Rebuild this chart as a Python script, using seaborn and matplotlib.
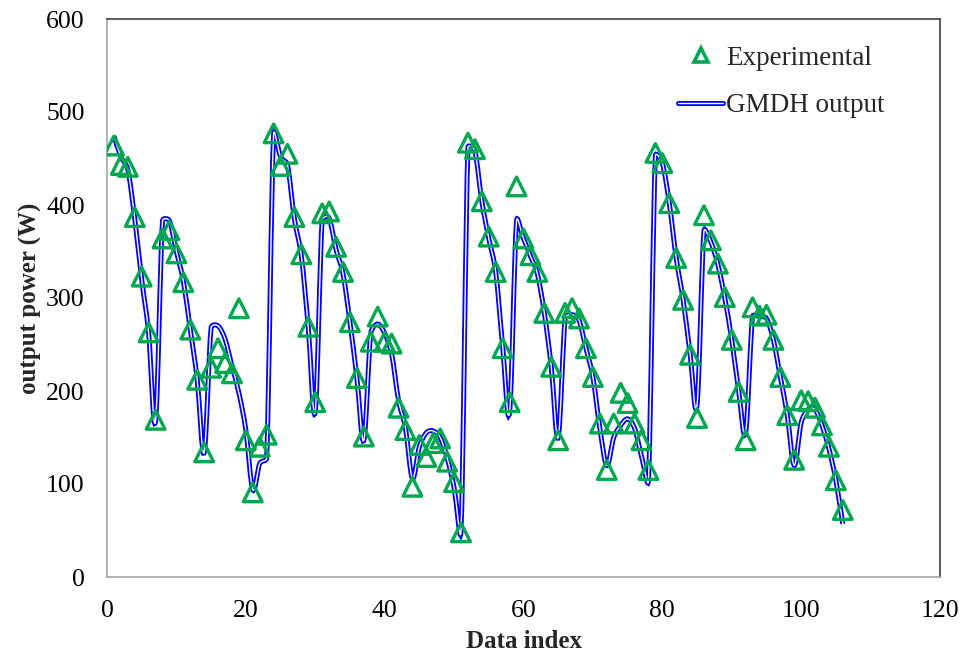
import matplotlib
matplotlib.use("Agg")
import matplotlib.pyplot as plt
import matplotlib.patheffects as pe
import numpy as np
import pandas as pd
import seaborn as sns
from matplotlib.lines import Line2D
from matplotlib.path import Path
from matplotlib.patches import PathPatch

# data index 1..106
data_index = list(range(1, 107))

experimental = [
    464, 443, 441, 387, 323, 263, 169, 364, 373, 348,
    317, 266, 212, 134, 225, 246, 230, 219, 289, 147,
    91, 140, 153, 477, 442, 455, 387, 347, 269, 188,
    391, 393, 355, 328, 274, 214, 151, 253, 280, 253,
    251, 182, 158, 97, 142, 129, 144, 149, 124, 102,
    48, 467, 460, 404, 366, 328, 246, 188, 420, 364,
    346, 328, 284, 226, 147, 284, 289, 278, 246, 215,
    165, 115, 165, 198, 187, 165, 147, 115, 456, 445,
    402, 343, 298, 239, 171, 389, 362, 337, 301, 255,
    199, 147, 290, 281, 282, 255, 215, 174, 126, 190,
    189, 182, 163, 140, 104, 72,
]

gmdh_output = [
    474, 452, 438, 385, 320, 262, 168, 383, 383, 350,
    318, 266, 212, 134, 268, 270, 256, 227, 198, 158,
    94, 122, 128, 476, 452, 443, 385, 345, 268, 178,
    384, 386, 352, 326, 274, 214, 147, 262, 272, 262,
    240, 190, 160, 106, 140, 155, 157, 150, 128, 96,
    50, 462, 458, 404, 364, 328, 248, 178, 383, 364,
    345, 326, 284, 226, 150, 278, 282, 276, 246, 215,
    160, 120, 150, 163, 170, 160, 130, 104, 453, 445,
    402, 343, 298, 240, 185, 372, 360, 336, 300, 255,
    200, 155, 280, 280, 278, 255, 215, 174, 120, 166,
    180, 180, 163, 138, 104, 57,
]

df = pd.DataFrame({"index": data_index, "exp": experimental, "gmdh": gmdh_output})

sns.set_theme(style="white")
plt.rcParams["font.family"] = ["Liberation Serif", "DejaVu Serif"]

fig = plt.figure(figsize=(9.65, 6.59), dpi=100)
ax = fig.add_axes([107 / 965, 1 - 577 / 659, (940 - 107) / 965, (577 - 19) / 659])
ax.set_xlim(0, 120)
ax.set_ylim(0, 600)

# smoothed GMDH line, bezier through the points (tangents capped like a spreadsheet smooth line)
sx, sy = 833 / 120, 558 / 600
pts = df[["index", "gmdh"]].to_numpy(dtype=float) * [sx, sy]
ext = np.vstack([pts[0], pts, pts[-1]])
tang = (ext[2:] - ext[:-2]) / 6.0
verts = [pts[0]]
codes = [Path.MOVETO]
for k in range(len(pts) - 1):
    seg = np.hypot(*(pts[k + 1] - pts[k]))
    t1, t2 = tang[k], tang[k + 1]
    n1, n2 = np.hypot(*t1), np.hypot(*t2)
    if n1 > 0.45 * seg:
        t1 = t1 * 0.45 * seg / n1
    if n2 > 0.45 * seg:
        t2 = t2 * 0.45 * seg / n2
    verts += [pts[k] + t1, pts[k + 1] - t2, pts[k + 1]]
    codes += [Path.CURVE4] * 3
verts = np.array(verts) / [sx, sy]

line_fx = [pe.Stroke(linewidth=3.6, foreground="#0000ff"),
           pe.Stroke(linewidth=1.0, foreground="white")]
patch = PathPatch(Path(verts, codes), facecolor="none", edgecolor="#0000ff",
                  linewidth=3.6, zorder=2)
patch.set_path_effects(line_fx)
ax.add_patch(patch)

sns.scatterplot(data=df, x="index", y="exp", ax=ax, marker="^", s=180,
                facecolor="none", edgecolor="#00a650", linewidth=2.4, zorder=3,
                legend=False)

ax.set_xticks(range(0, 121, 20))
ax.set_yticks(range(0, 601, 100))

for side in ["left", "bottom"]:
    ax.spines[side].set_color("#a6a6a6")
    ax.spines[side].set_linewidth(1.2)
for side in ["top", "right"]:
    ax.spines[side].set_color("#404040")
    ax.spines[side].set_linewidth(1.2)

ax.tick_params(axis="both", direction="out", length=5, width=1.1, color="#a6a6a6",
               labelsize=18.5, labelcolor="black")
ax.tick_params(axis="y", pad=11)
ax.tick_params(axis="x", pad=11.5)

ax.set_xlabel("Data index", fontsize=18, fontweight="bold", labelpad=6)
ax.set_ylabel("output power (W)", fontsize=18, fontweight="bold", labelpad=3)

h_exp = Line2D([], [], linestyle="none", marker="^", markersize=9.5,
               markerfacecolor="none", markeredgecolor="#00a650", markeredgewidth=2.6)
h_gmdh = Line2D([], [], color="#0000ff", linewidth=3.6)
h_gmdh.set_path_effects(line_fx)
ax.legend([h_exp, h_gmdh], ["Experimental", "GMDH output"], loc="upper left",
          bbox_to_anchor=(0.686, 0.952), frameon=False, fontsize=19.5,
          handlelength=1.65, handletextpad=0.1, labelspacing=0.82,
          borderaxespad=0, borderpad=0)

fig.savefig("out.png", dpi=100)
